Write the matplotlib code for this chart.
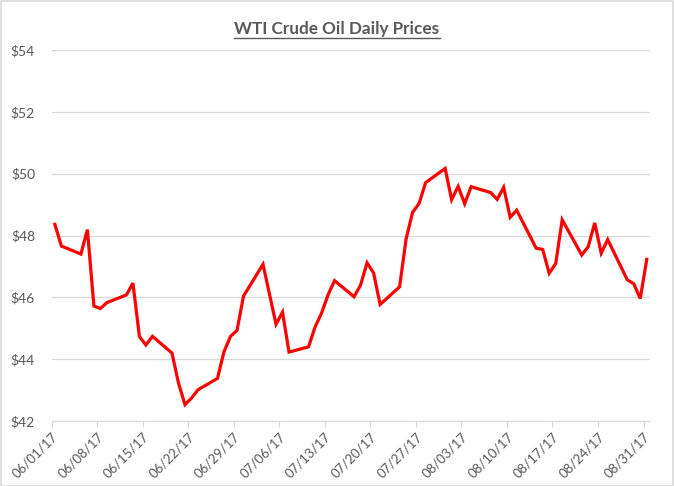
import numpy as np
import pandas as pd
import matplotlib
matplotlib.use("Agg")
import matplotlib.pyplot as plt
import matplotlib.dates as mdates
from matplotlib.lines import Line2D
from matplotlib.patches import Rectangle

# trading days, Jun-Aug 2017
dates = ["2017-06-01", "2017-06-02", "2017-06-05", "2017-06-06", "2017-06-07", "2017-06-08",
         "2017-06-09", "2017-06-12", "2017-06-13", "2017-06-14", "2017-06-15", "2017-06-16",
         "2017-06-19", "2017-06-20", "2017-06-21", "2017-06-22", "2017-06-23", "2017-06-26",
         "2017-06-27", "2017-06-28", "2017-06-29", "2017-06-30",
         "2017-07-03", "2017-07-05", "2017-07-06", "2017-07-07", "2017-07-10", "2017-07-11",
         "2017-07-12", "2017-07-13", "2017-07-14", "2017-07-17", "2017-07-18", "2017-07-19",
         "2017-07-20", "2017-07-21", "2017-07-24", "2017-07-25", "2017-07-26", "2017-07-27",
         "2017-07-28", "2017-07-31",
         "2017-08-01", "2017-08-02", "2017-08-03", "2017-08-04", "2017-08-07", "2017-08-08",
         "2017-08-09", "2017-08-10", "2017-08-11", "2017-08-14", "2017-08-15", "2017-08-16",
         "2017-08-17", "2017-08-18", "2017-08-21", "2017-08-22", "2017-08-23", "2017-08-24",
         "2017-08-25", "2017-08-28", "2017-08-29", "2017-08-30", "2017-08-31"]
prices = [48.36, 47.66, 47.40, 48.19, 45.72, 45.64, 45.83, 46.08, 46.46, 44.73, 44.46, 44.74,
          44.20, 43.23, 42.53, 42.74, 43.01, 43.38, 44.24, 44.74, 44.93, 46.04,
          47.07, 45.13, 45.52, 44.23, 44.40, 45.04, 45.49, 46.08, 46.54, 46.02, 46.40, 47.12,
          46.79, 45.77, 46.34, 47.89, 48.75, 49.04, 49.71, 50.17,
          49.16, 49.59, 49.03, 49.58, 49.39, 49.17, 49.56, 48.59, 48.82, 47.59, 47.55, 46.78,
          47.09, 48.51, 47.37, 47.64, 48.41, 47.43, 47.87, 46.57, 46.44, 45.96, 47.23]
tick_dates = pd.date_range("2017-06-01", "2017-08-31", freq="7D")
y_ticks = [42, 44, 46, 48, 50, 52, 54]

gray_txt = "#595959"
grid_c = "#d9d9d9"
plt.rcParams["font.family"] = ["Lato", "DejaVu Sans"]

fig = plt.figure(figsize=(6.74, 4.86), dpi=100)
ax = fig.add_axes([0.0766, 0.1337, 0.8878, 0.7633])

# excel date axis: points sit in the middle of each day
x = pd.to_datetime(dates) + pd.Timedelta(hours=12)
ax.plot(x, prices, color="#ff0000", lw=2.3, solid_joinstyle="miter")

ax.set_xlim(pd.Timestamp("2017-06-01"), pd.Timestamp("2017-09-01"))
ax.set_ylim(42, 54)
ax.set_yticks(y_ticks)
ax.set_yticklabels(["$%d" % v for v in y_ticks])
ax.set_xticks(tick_dates)
ax.xaxis.set_major_formatter(mdates.DateFormatter("%m/%d/%y"))
for lab in ax.get_xticklabels():
    lab.set_rotation(45)
    lab.set_ha("right")
    lab.set_rotation_mode("anchor")

ax.grid(axis="y", color=grid_c, lw=0.9)
ax.set_axisbelow(True)
for s in ["top", "right", "left"]:
    ax.spines[s].set_visible(False)
ax.spines["bottom"].set_color(grid_c)
ax.tick_params(axis="y", length=0, pad=12, labelsize=10, labelcolor=gray_txt)
ax.tick_params(axis="x", length=4, color=grid_c, labelsize=9.5, labelcolor=gray_txt, pad=3)

t = fig.text(0.5, 0.94, "WTI Crude Oil Daily Prices", ha="center", va="center",
             fontsize=12.3, fontweight="bold", color=gray_txt)
fig.canvas.draw()
bb = t.get_window_extent(fig.canvas.get_renderer()).transformed(fig.transFigure.inverted())
fig.add_artist(Line2D([bb.x0, bb.x1], [bb.y0 - 0.002, bb.y0 - 0.002],
                      transform=fig.transFigure, color=gray_txt, lw=1))

fig.add_artist(Rectangle((0.001, 0.001), 0.997, 0.997, transform=fig.transFigure,
                         fill=False, edgecolor=grid_c, lw=1.2))

fig.savefig("out.png", dpi=100)
